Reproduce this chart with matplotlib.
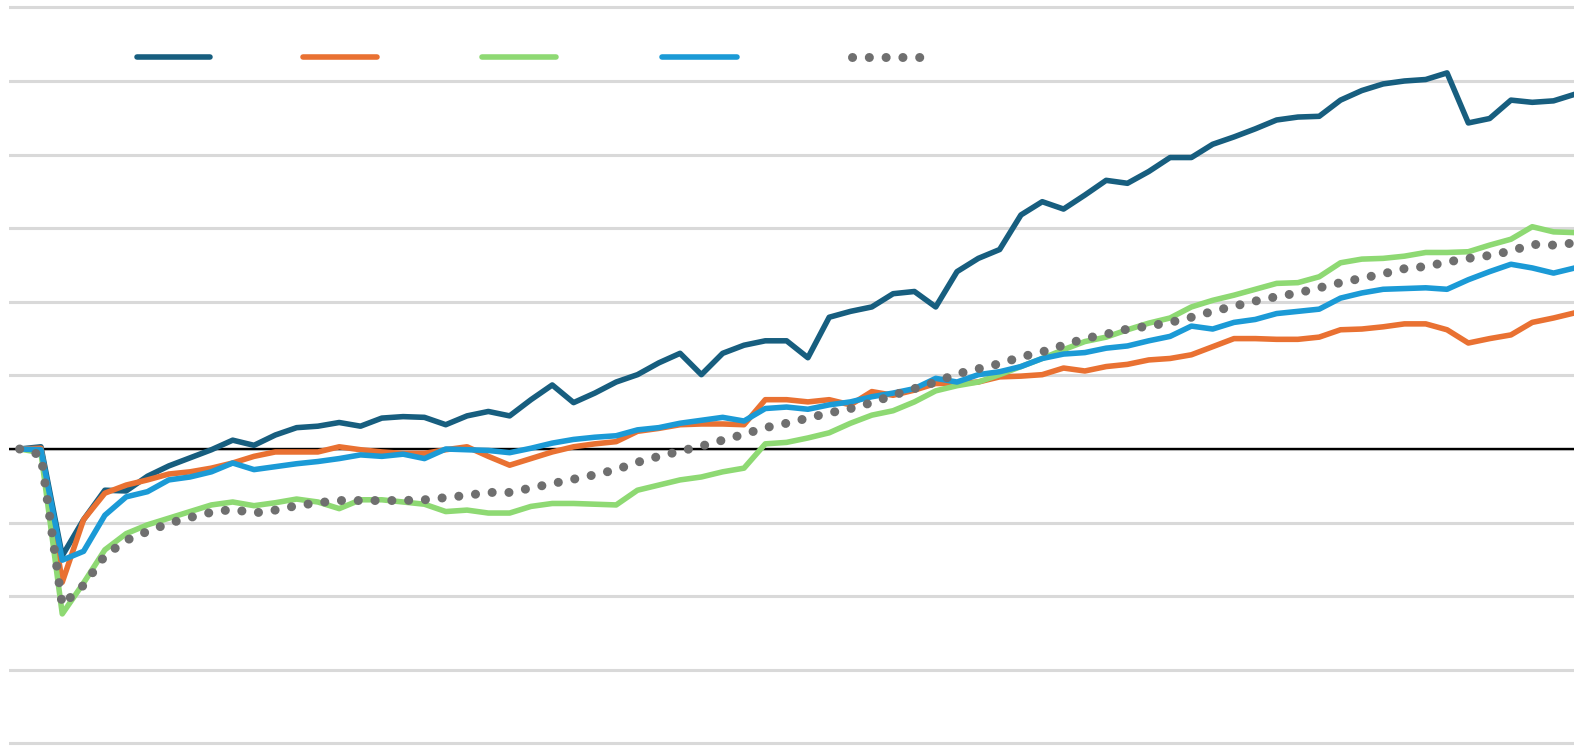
import matplotlib
matplotlib.use("Agg")
import matplotlib.pyplot as plt
from matplotlib.lines import Line2D

# values, one point per period (gridline step = 10)
periods = list(range(74))

series_a = [0, 0.3, -14.5, -9.6, -5.6, -5.7, -3.7, -2.3, -1.2, -0.1,
            1.2, 0.5, 1.9, 2.9, 3.1, 3.6, 3.1, 4.2, 4.4, 4.3,
            3.3, 4.5, 5.1, 4.5, 6.7, 8.7, 6.3, 7.6, 9.1, 10.1,
            11.7, 13.0, 10.1, 13.0, 14.1, 14.7, 14.7, 12.4, 17.9, 18.7,
            19.3, 21.1, 21.4, 19.3, 24.1, 25.9, 27.1, 31.8, 33.6, 32.6,
            34.5, 36.5, 36.1, 37.7, 39.6, 39.6, 41.4, 42.4, 43.5, 44.7,
            45.1, 45.2, 47.4, 48.7, 49.6, 50.0, 50.2, 51.1, 44.3, 44.9,
            47.4, 47.1, 47.3, 48.2]

series_b = [0, 0.1, -18.1, -9.6, -6.0, -4.9, -4.2, -3.4, -3.1, -2.6,
            -1.9, -1.0, -0.4, -0.4, -0.4, 0.3, -0.1, -0.4, -0.6, -0.6,
            -0.1, 0.3, -1.0, -2.2, -1.3, -0.4, 0.3, 0.7, 1.0, 2.4,
            2.8, 3.3, 3.4, 3.4, 3.3, 6.7, 6.7, 6.4, 6.7, 6.0,
            7.8, 7.3, 8.0, 8.9, 8.9, 9.1, 9.8, 9.9, 10.1, 11.0,
            10.6, 11.2, 11.5, 12.1, 12.3, 12.8, 13.9, 15.0, 15.0, 14.9,
            14.9, 15.2, 16.2, 16.3, 16.6, 17.0, 17.0, 16.2, 14.4, 15.0,
            15.5, 17.2, 17.8, 18.5]

series_c = [0, -0.5, -22.4, -18.2, -13.7, -11.5, -10.3, -9.4, -8.5, -7.6,
            -7.2, -7.7, -7.3, -6.8, -7.2, -8.1, -6.9, -6.9, -7.2, -7.5,
            -8.5, -8.3, -8.7, -8.7, -7.8, -7.4, -7.4, -7.5, -7.6, -5.6,
            -4.9, -4.2, -3.8, -3.1, -2.6, 0.7, 0.9, 1.5, 2.2, 3.5,
            4.6, 5.2, 6.4, 7.9, 8.6, 9.1, 10.1, 11.2, 12.3, 13.5,
            14.6, 15.2, 16.2, 17.1, 17.8, 19.3, 20.2, 20.9, 21.7, 22.5,
            22.6, 23.4, 25.3, 25.8, 25.9, 26.2, 26.7, 26.7, 26.8, 27.7,
            28.5, 30.2, 29.5, 29.4]

series_d = [0, -0.1, -15.1, -13.9, -9.0, -6.5, -5.8, -4.2, -3.8, -3.1,
            -1.9, -2.8, -2.4, -2.0, -1.7, -1.3, -0.8, -1.0, -0.7, -1.3,
            0.0, -0.1, -0.2, -0.5, 0.1, 0.8, 1.3, 1.6, 1.8, 2.6,
            2.9, 3.5, 3.9, 4.3, 3.8, 5.5, 5.7, 5.4, 6.0, 6.4,
            7.1, 7.6, 8.2, 9.6, 9.1, 10.1, 10.5, 11.2, 12.3, 12.9,
            13.1, 13.7, 14.0, 14.7, 15.3, 16.7, 16.3, 17.2, 17.6, 18.4,
            18.7, 19.0, 20.5, 21.2, 21.7, 21.8, 21.9, 21.7, 23.0, 24.1,
            25.1, 24.6, 23.9, 24.6]

series_e = [0, -0.8, -21.2, -18.5, -14.5, -12.4, -11.2, -10.1, -9.3, -8.6,
            -8.2, -8.7, -8.3, -7.7, -7.3, -7.0, -7.0, -7.0, -7.0, -6.9,
            -6.6, -6.3, -5.9, -5.9, -5.3, -4.7, -4.1, -3.5, -2.8, -1.8,
            -1.0, -0.3, 0.4, 1.2, 2.0, 2.9, 3.5, 4.2, 4.9, 5.5,
            6.3, 7.3, 8.2, 9.1, 10.2, 10.9, 11.6, 12.5, 13.2, 14.1,
            15.0, 15.6, 16.3, 16.7, 17.2, 17.9, 18.7, 19.4, 20.1, 20.7,
            21.2, 21.9, 22.6, 23.2, 23.8, 24.5, 24.8, 25.4, 25.9, 26.3,
            26.9, 27.8, 27.7, 28.0]

C_A = "#175e7f"
C_B = "#e97132"
C_C = "#8ed973"
C_D = "#1b9ad6"
C_E = "#6f6f6f"

fig = plt.figure(figsize=(15.74, 7.49), dpi=100)
ax = fig.add_axes([9 / 1574, 1.9 / 749, 1565 / 1574, 743.4 / 749])
ax.set_xlim(-0.5, 72.96)
ax.set_ylim(-40.5, 60.5)

ax.set_yticks(range(-40, 61, 10))
ax.grid(axis="y", color="#d9d9d9", lw=2.2, zorder=0)
ax.axhline(0, color="black", lw=1.7, zorder=2)
ax.tick_params(length=0, labelleft=False, labelbottom=False)
ax.set_xticks([])
for s in ax.spines.values():
    s.set_visible(False)

lw = 4.0
dot_lw = 6.5
dots = (0, (0.01, 1.85))
ax.plot(periods, series_a, color=C_A, lw=lw, zorder=3)
ax.plot(periods, series_b, color=C_B, lw=lw, zorder=3)
ax.plot(periods, series_c, color=C_C, lw=lw, zorder=3)
ax.plot(periods, series_d, color=C_D, lw=lw, zorder=3)
ax.plot(periods, series_e, color=C_E, lw=dot_lw, zorder=3,
        linestyle=dots, dash_capstyle="round")

# legend keys (labels are blank in the reference)
W, H = 1574, 749
keys = [(137, 210, C_A, "-"), (303, 377, C_B, "-"), (482, 556, C_C, "-"),
        (662, 737, C_D, "-"), (852, 925, C_E, ":")]
for x1, x2, c, st in keys:
    if st == ":":
        ln = Line2D([x1 / W, x2 / W], [1 - 57 / H, 1 - 57 / H], color=c,
                    lw=dot_lw, linestyle=dots,
                    dash_capstyle="round", transform=fig.transFigure)
    else:
        ln = Line2D([x1 / W, x2 / W], [1 - 57 / H, 1 - 57 / H], color=c,
                    lw=lw, solid_capstyle="round", transform=fig.transFigure)
    fig.add_artist(ln)

fig.savefig("out.png", dpi=100)
